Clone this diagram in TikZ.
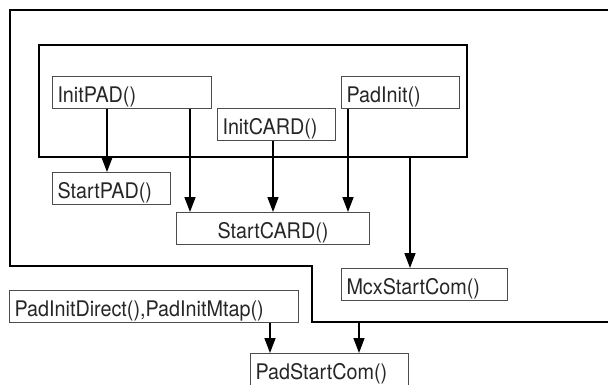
\documentclass[tikz,border=0pt]{standalone}
\usepackage{fontspec}
\setmainfont{TeX Gyre Heros}[FakeStretch=0.92]
\usetikzlibrary{arrows.meta}
\begin{document}
\begin{tikzpicture}[x=1pt,y=-1pt]
\tikzstyle{every node}=[font=\fontsize{21.5}{24}\selectfont, text=black!85]% letra de todos los nodos
\tikzstyle{funcion}=[draw=black!70, line width=1pt, anchor=north west, minimum height=32pt, inner xsep=5pt, inner ysep=0pt, align=left, text height=22pt, text depth=2pt]% caja de cada funcion
\tikzstyle{marco}=[draw, line width=1.7pt]% marcos que agrupan
\tikzstyle{flecha}=[line width=1.5pt, -{Triangle[width=11pt,length=15pt]}]% conexion entre cajas
\useasboundingbox (0,0) rectangle (608,384);
% marco exterior (abierto a la derecha)
\draw[marco] (612,10) -- (10,10) -- (10,266) -- (312,266) -- (312,322) -- (612,322);
\coordinate (exterior) at (359,322);
% marco interior
\node[marco, anchor=north west, inner sep=0pt, minimum width=428pt, minimum height=112pt] (interior) at (38,44) {};
% funciones
\node[funcion, text width=149pt] (initpad) at (52,76) {InitPAD()};
\node[funcion, text width=108pt] (padinit) at (341,76) {PadInit()};
\node[funcion, text width=108pt] (initcard) at (217,108) {InitCARD()};
\node[funcion, text width=108pt] (startpad) at (52,172) {StartPAD()};
\node[funcion, text width=183pt, align=center] (startcard) at (176,212) {StartCARD()};
\node[funcion, text width=156pt] (mcx) at (341,268) {McxStartCom()};
\node[funcion, text width=279pt] (direct) at (9,290) {PadInitDirect(),PadInitMtap()};
\node[funcion, text width=148pt] (padstart) at (250,353) {PadStartCom()};
% conexiones
\draw[flecha] ([xshift=55pt]initpad.south west) -- ([xshift=55pt]initpad.south west |- startpad.north);
\draw[flecha] ([xshift=138pt]initpad.south west) -- ([xshift=138pt]initpad.south west |- startcard.north);
\draw[flecha] ([xshift=56pt]initcard.south west) -- ([xshift=56pt]initcard.south west |- startcard.north);
\draw[flecha] ([xshift=7pt]padinit.south west) -- ([xshift=7pt]padinit.south west |- startcard.north);
\draw[flecha] ([xshift=372pt]interior.south west) -- ([xshift=372pt]interior.south west |- mcx.north);
\draw[flecha] ([xshift=261pt]direct.south west) -- ([xshift=261pt]direct.south west |- padstart.north);
\draw[flecha] (exterior) -- (exterior |- padstart.north);
\end{tikzpicture}
\end{document}
